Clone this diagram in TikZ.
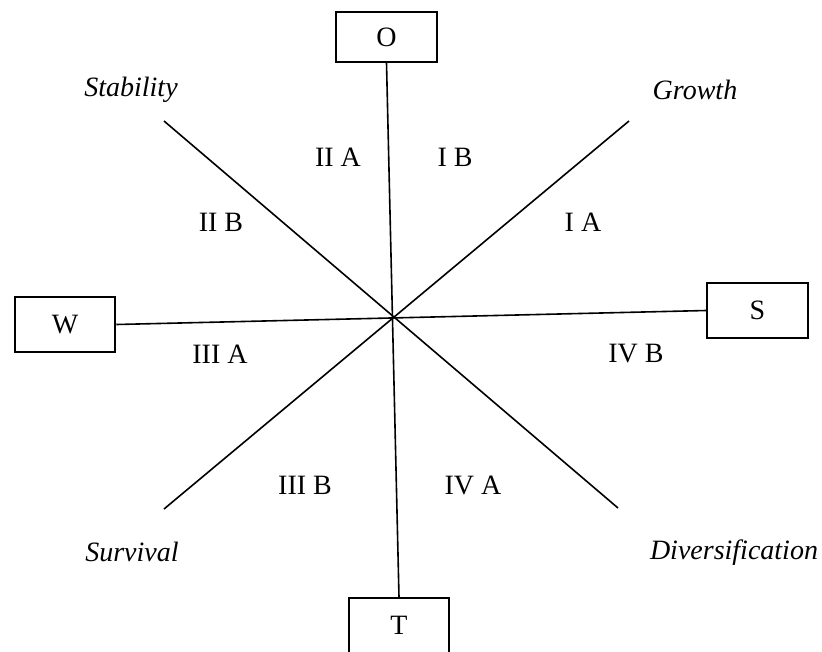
\documentclass[tikz,border=0pt]{standalone}
\usepackage{fontspec}
\setmainfont{Liberation Serif}
\tikzset{
  swotbox/.style={draw, line width=1.4pt, inner sep=0pt, minimum width=75.5pt, minimum height=41pt},
  axisline/.style={line width=1.2pt},
  sector/.style={inner sep=0pt},
  strategy/.style={inner sep=0pt, font=\fontsize{21}{25}\selectfont\itshape}
}

\begin{document}
\begin{tikzpicture}[x=0.75pt,y=-0.75pt,font=\fontsize{21}{25}\selectfont]
	\useasboundingbox (0,0) rectangle (822,651);
	\clip (0,0) rectangle (822,651);
	\begin{scope}
		% the four SWOT boxes
		\node[swotbox, minimum height=37pt] (O) at (386.5,37) {O};
		\node[swotbox] (T) at (399,625.5) {T};
		\node[swotbox] (W) at (65,324.5) {W};
		\node[swotbox] (S) at (757.5,310.5) {S};
		
		% ends of the diagonals
		\coordinate (stab) at (164,121);
		\coordinate (div) at (618,508);
		\coordinate (grow) at (629,121);
		\coordinate (surv) at (164,509);
		
		\draw[axisline] (O.south) -- (T.north);
		\draw[axisline] (W.east) -- (S.west);
		\draw[axisline] (stab) -- (div);
		\draw[axisline] (grow) -- (surv);
		
		\node[strategy] (stability) at (131,90) {Stability};
		\node[strategy] (growth) at (695,90) {Growth};
		\node[strategy] (survival) at (132,552) {Survival};
		\node[strategy] (diversification) at (734,553) {Diversification};
		
		\node[sector] (IIA) at (338,157) {II A};
		\node[sector] (IB) at (455,157) {I B};
		\node[sector] (IIB) at (221,222) {II B};
		\node[sector] (IA) at (583,222) {I A};
		\node[sector] (IIIA) at (220,354) {III A};
		\node[sector] (IVB) at (636,354) {IV B};
		\node[sector] (IIIB) at (305,485) {III B};
		\node[sector] (IVA) at (473,485) {IV A};
	\end{scope}
\end{tikzpicture}
\end{document}
